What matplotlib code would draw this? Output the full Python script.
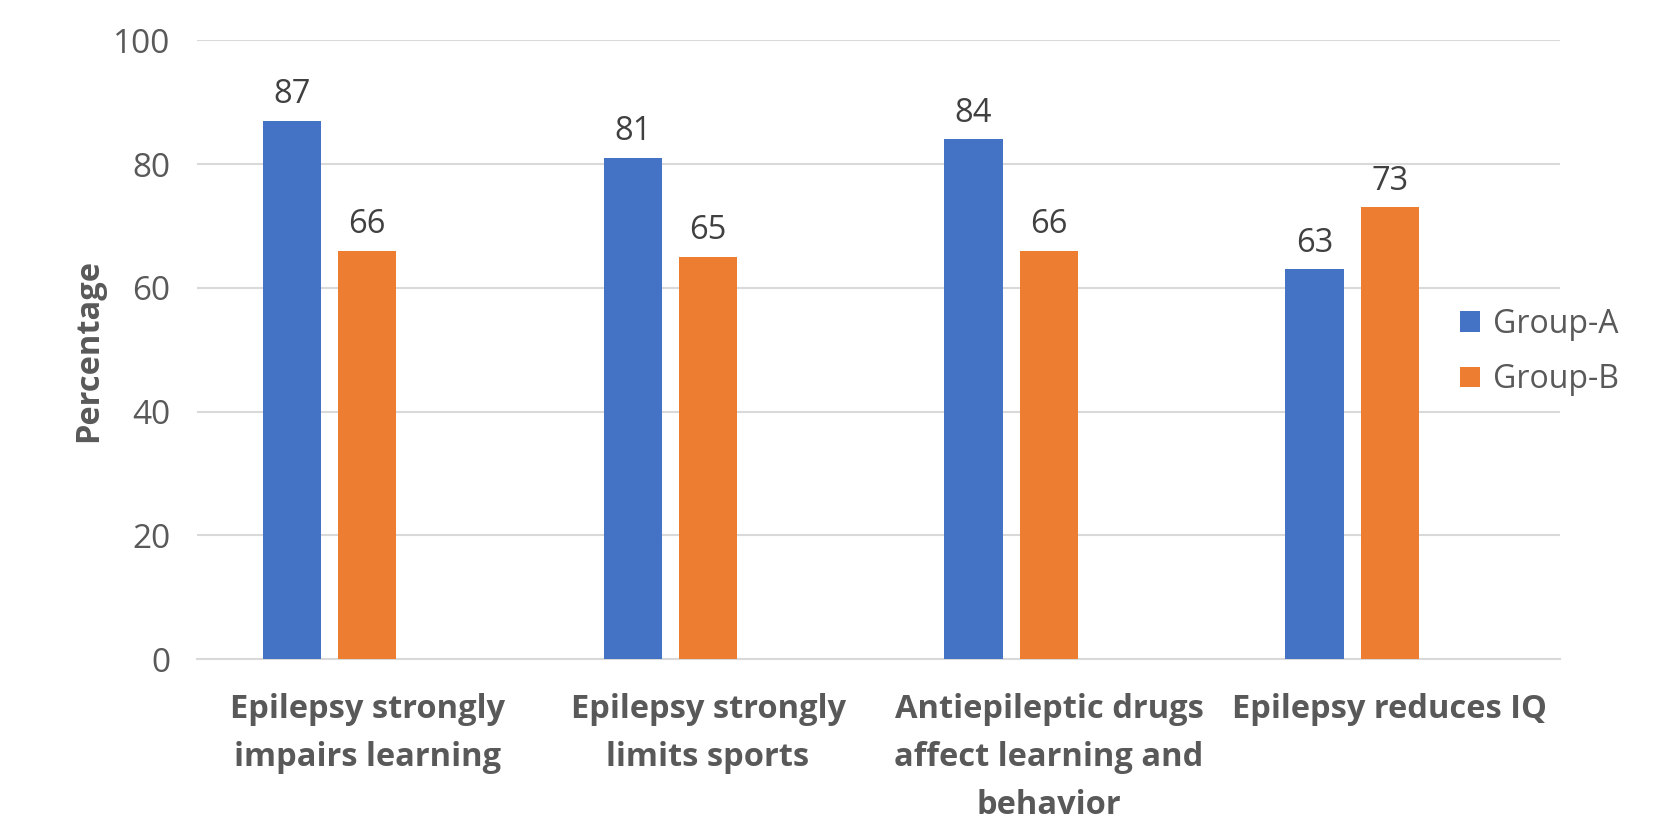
import numpy as np
import matplotlib.pyplot as plt

plt.rcParams['font.family'] = ['Open Sans', 'DejaVu Sans']

categories = ['Epilepsy strongly\nimpairs learning',
              'Epilepsy strongly\nlimits sports',
              'Antiepileptic drugs\naffect learning and\nbehavior',
              'Epilepsy reduces IQ']
group_a = [87, 81, 84, 63]
group_b = [66, 65, 66, 73]
yticks = [0, 20, 40, 60, 80, 100]

blue = '#4472C4'
orange = '#ED7D31'
grey = '#595959'

fig = plt.figure(figsize=(16.67, 8.23), dpi=100)
ax = fig.add_axes([0.118, 0.199, 0.818, 0.752])

x = np.arange(len(categories))
w = 0.171
bars_a = ax.bar(x - 0.221, group_a, w, color=blue, label='Group-A', zorder=3)
bars_b = ax.bar(x, group_b, w, color=orange, label='Group-B', zorder=3)

for bars in (bars_a, bars_b):
    for b in bars:
        ax.annotate(f'{b.get_height():.0f}', (b.get_x() + b.get_width() / 2, b.get_height()),
                    xytext=(0, 7), textcoords='offset points', ha='center', va='bottom',
                    fontsize=23.5, color='#404040')

ax.set_xlim(-0.5, 3.5)
ax.set_ylim(0, 100)
ax.set_yticks(yticks)
ax.set_xticks(x)
ax.set_xticklabels(categories, fontsize=23.5, fontweight='bold', color=grey, linespacing=1.6, va='top')
ax.tick_params(axis='y', length=0, pad=19, labelsize=24, labelcolor=grey)
ax.tick_params(axis='x', length=0, pad=24)
ax.grid(axis='y', color='#d9d9d9', linewidth=1.5, zorder=0)
for s in ['top', 'right', 'left']:
    ax.spines[s].set_visible(False)
ax.spines['bottom'].set_color('#d9d9d9')
ax.spines['bottom'].set_linewidth(1.5)

fig.text(89 / 1667, 1 - 351 / 823, 'Percentage', rotation=90, ha='center', va='center',
         fontsize=23.5, fontweight='bold', color=grey)

ax.legend(loc='center left', bbox_to_anchor=(1460 / 1667, 1 - 352 / 823),
          bbox_transform=fig.transFigure, frameon=False, fontsize=23,
          handlelength=0.62, handleheight=0.62, handletextpad=0.4,
          labelspacing=0.7, borderpad=0, borderaxespad=0, labelcolor=grey)

fig.savefig('out.png', dpi=100, facecolor='white')
